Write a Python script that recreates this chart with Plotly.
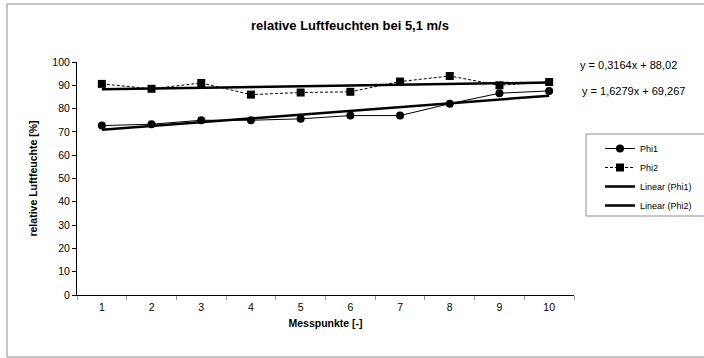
import plotly.graph_objects as go

# Messpunkte and measured relative humidity values
messpunkte = ["1", "2", "3", "4", "5", "6", "7", "8", "9", "10"]
phi1 = [72.7, 73.3, 75.0, 75.0, 75.6, 77.0, 77.0, 82.1, 86.6, 87.6]
phi2 = [90.6, 88.5, 91.0, 86.0, 86.9, 87.2, 91.6, 94.0, 90.0, 91.4]

# Linear trend coefficients (slope, intercept) and their printed equations
trend_phi1 = (1.6279, 69.267)
trend_phi2 = (0.3164, 88.02)
eq_phi1 = "y = 1,6279x + 69,267"
eq_phi2 = "y = 0,3164x + 88,02"

y_ticks = [0, 10, 20, 30, 40, 50, 60, 70, 80, 90, 100]

font_family = "Liberation Sans, Arial, sans-serif"

xs_num = list(range(1, len(messpunkte) + 1))
lin1 = [trend_phi1[0] * x + trend_phi1[1] for x in xs_num]
lin2 = [trend_phi2[0] * x + trend_phi2[1] for x in xs_num]

fig = go.Figure()
fig.add_trace(go.Scatter(
    x=messpunkte, y=phi1, name="Phi1", mode="lines+markers",
    line=dict(color="black", width=1),
    marker=dict(symbol="circle", size=8, color="black"),
))
fig.add_trace(go.Scatter(
    x=messpunkte, y=phi2, name="Phi2", mode="lines+markers",
    line=dict(color="black", width=1, dash="3px,2px"),
    marker=dict(symbol="square", size=8, color="black"),
))
fig.add_trace(go.Scatter(
    x=messpunkte, y=lin1, name="Linear (Phi1)", mode="lines",
    line=dict(color="black", width=2.5),
))
fig.add_trace(go.Scatter(
    x=messpunkte, y=lin2, name="Linear (Phi2)", mode="lines",
    line=dict(color="black", width=2.5),
))

# plot area in pixels: left 77, right 574, top 62, bottom 295
L, R, T, B = 77, 574, 62, 295
W, H = R - L, B - T


def px(xp):
    return (xp - L) / W


def py(yp):
    return (B - yp) / H


shapes = [
    # outer chart frame
    dict(type="rect", xref="paper", yref="paper",
         x0=px(7), x1=px(730), y0=py(357), y1=py(4),
         line=dict(color="#8c8c8c", width=1), layer="below"),
    # legend frame
    dict(type="rect", xref="paper", yref="paper",
         x0=px(586), x1=px(730), y0=py(216), y1=py(134),
         line=dict(color="#8c8c8c", width=1), layer="below"),
]

annotations = [
    dict(text=eq_phi2, xref="paper", yref="paper", x=px(578), y=py(65),
         xanchor="left", yanchor="middle", showarrow=False,
         font=dict(size=11, color="black", family=font_family)),
    dict(text=eq_phi1, xref="paper", yref="paper", x=px(580), y=py(91),
         xanchor="left", yanchor="middle", showarrow=False,
         font=dict(size=11, color="black", family=font_family)),
]

fig.update_layout(
    width=704, height=358,
    margin=dict(l=L, r=704 - R, t=T, b=358 - B, pad=0, autoexpand=False),
    paper_bgcolor="white", plot_bgcolor="white",
    font=dict(family=font_family, size=10.5, color="black"),
    title=dict(text="<b>relative Luftfeuchten bei 5,1 m/s</b>",
               x=px(350), xref="paper", xanchor="center",
               y=1 - 25 / 358, yanchor="middle",
               font=dict(size=13, color="black", family=font_family)),
    showlegend=True,
    legend=dict(x=px(600), y=py(134), xanchor="left", yanchor="top",
                bgcolor="rgba(0,0,0,0)", borderwidth=0,
                font=dict(size=9, color="black", family=font_family),
                tracegroupgap=0, itemwidth=30),
    shapes=shapes,
    annotations=annotations,
    xaxis=dict(
        type="category", tickson="boundaries", ticks="outside",
        ticklen=4, tickcolor="#999999", tickwidth=1,
        showline=True, linecolor="black", linewidth=1,
        showgrid=False, zeroline=False,
        tickfont=dict(size=10.5, color="black"),
        ticklabelstandoff=2,
        title=dict(text="<b>Messpunkte [-]</b>", standoff=8,
                   font=dict(size=10.5, color="black")),
        range=[-0.5, 9.5], fixedrange=True,
    ),
    yaxis=dict(
        range=[0, 100], tickvals=y_ticks, ticks="outside",
        ticklen=4, tickcolor="black", tickwidth=1,
        showline=True, linecolor="black", linewidth=1,
        showgrid=False, zeroline=False,
        tickfont=dict(size=10.5, color="black"),
        title=dict(text="<b>relative Luftfeuchte [%]</b>", standoff=12,
                   font=dict(size=10.5, color="black")),
        fixedrange=True,
    ),
)

fig.write_html("out.html")
